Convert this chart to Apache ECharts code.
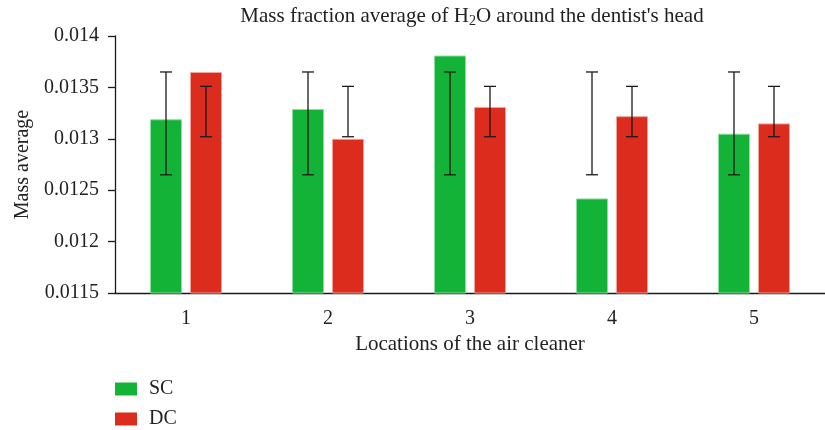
<!DOCTYPE html>
<html>
<head>
<meta charset="utf-8">
<script src="https://cdn.jsdelivr.net/npm/echarts@6/dist/echarts.min.js"></script>
<style>
  html, body { margin: 0; padding: 0; background: #fff; }
  #chart { width: 825px; height: 430px; }
</style>
</head>
<body>
<div id="chart"></div>
<script>
// Locations of the air cleaner
const categories = ['1', '2', '3', '4', '5'];
// Mass fraction averages of H2O
const scValues = [0.01319, 0.01329, 0.01381, 0.01242, 0.01305];
const dcValues = [0.01365, 0.01300, 0.01331, 0.01322, 0.01315];
// Error ranges (low, high)
const scLow  = [0.01265, 0.01265, 0.01265, 0.01265, 0.01265];
const scHigh = [0.01365, 0.01365, 0.01365, 0.01365, 0.01365];
const dcLow  = [0.01302, 0.01302, 0.01302, 0.01302, 0.01302];
const dcHigh = [0.01351, 0.01351, 0.01351, 0.01351, 0.01351];
// Y axis tick labels
const yTicks = ['0.0115', '0.012', '0.0125', '0.013', '0.0135', '0.014'];

const FONT = 'Liberation Serif';
const BAR_W = 32;
const BAR_GAP = 8;
const GREEN = '#13b337';
const RED = '#dc2c1d';

function errorRenderer(offset) {
  return function (params, api) {
    const lo = api.coord([api.value(0), api.value(1)]);
    const hi = api.coord([api.value(0), api.value(2)]);
    const x = lo[0] + offset;
    const cap = 6;
    const style = { stroke: '#1a1a1a', lineWidth: 1.3 };
    return {
      type: 'group',
      children: [
        { type: 'line', shape: { x1: x, y1: lo[1], x2: x, y2: hi[1] }, style },
        { type: 'line', shape: { x1: x - cap, y1: lo[1], x2: x + cap, y2: lo[1] }, style },
        { type: 'line', shape: { x1: x - cap, y1: hi[1], x2: x + cap, y2: hi[1] }, style }
      ]
    };
  };
}

const half = (BAR_W + BAR_GAP) / 2;
const chart = echarts.init(document.getElementById('chart'), null, { renderer: 'canvas' });
chart.setOption({
  animation: false,
  backgroundColor: '#fff',
  textStyle: { fontFamily: FONT, color: '#222' },
  title: {
    text: 'Mass fraction average of H{sub|2}O around the dentist\'s head',
    left: 472,
    textAlign: 'center',
    top: 5,
    padding: 0,
    textStyle: {
      fontFamily: FONT, fontSize: 21, fontWeight: 'normal', color: '#222',
      rich: { sub: { fontFamily: FONT, fontSize: 14, verticalAlign: 'bottom', padding: [9, 0, 0, 0], color: '#222' } }
    }
  },
  legend: {
    orient: 'vertical',
    left: 115,
    top: 379,
    padding: 0,
    itemWidth: 22,
    itemHeight: 13,
    itemGap: 10,
    icon: 'rect',
    itemStyle: { borderWidth: 0 },
    textStyle: { fontFamily: FONT, fontSize: 20, color: '#222', padding: [0, 0, 0, 7] },
    data: ['SC', 'DC']
  },
  grid: { left: 115, right: -5, top: 36, bottom: 137, containLabel: false },
  xAxis: {
    type: 'category',
    data: categories,
    boundaryGap: true,
    name: 'Locations of the air cleaner',
    nameLocation: 'middle',
    nameGap: 38,
    nameTextStyle: { fontFamily: FONT, fontSize: 21, color: '#222' },
    axisLine: { lineStyle: { color: '#1a1a1a', width: 1.3 } },
    axisTick: { length: 7, lineStyle: { color: '#1a1a1a', width: 1.3 } },
    axisLabel: { fontFamily: FONT, fontSize: 20, color: '#222', margin: 16 }
  },
  yAxis: {
    type: 'value',
    min: 0.0115,
    max: 0.014,
    interval: 0.0005,
    name: 'Mass average',
    nameLocation: 'middle',
    nameGap: 82,
    nameTextStyle: { fontFamily: FONT, fontSize: 20, color: '#222' },
    splitLine: { show: false },
    axisLine: { show: true, lineStyle: { color: '#1a1a1a', width: 1.3 } },
    axisTick: { show: true, length: 7, lineStyle: { color: '#1a1a1a', width: 1.3 } },
    axisLabel: {
      fontFamily: FONT, fontSize: 20, color: '#222', margin: 16,
      formatter: function (v) {
        const idx = Math.round((v - 0.0115) / 0.0005);
        return yTicks[idx];
      }
    }
  },
  series: [
    {
      name: 'SC', type: 'bar', data: scValues,
      barWidth: BAR_W, barGap: (BAR_GAP / BAR_W * 100) + '%',
      itemStyle: { color: GREEN, borderColor: '#8fdca2', borderWidth: 1 }
    },
    {
      name: 'DC', type: 'bar', data: dcValues,
      barWidth: BAR_W,
      itemStyle: { color: RED, borderColor: '#f0a39b', borderWidth: 1 }
    },
    {
      type: 'custom', name: 'SC error',
      renderItem: errorRenderer(-half),
      encode: { x: 0, y: [1, 2] },
      data: categories.map((c, i) => [i, scLow[i], scHigh[i]]),
      z: 10
    },
    {
      type: 'custom', name: 'DC error',
      renderItem: errorRenderer(half),
      encode: { x: 0, y: [1, 2] },
      data: categories.map((c, i) => [i, dcLow[i], dcHigh[i]]),
      z: 10
    }
  ]
});
</script>
</body>
</html>
